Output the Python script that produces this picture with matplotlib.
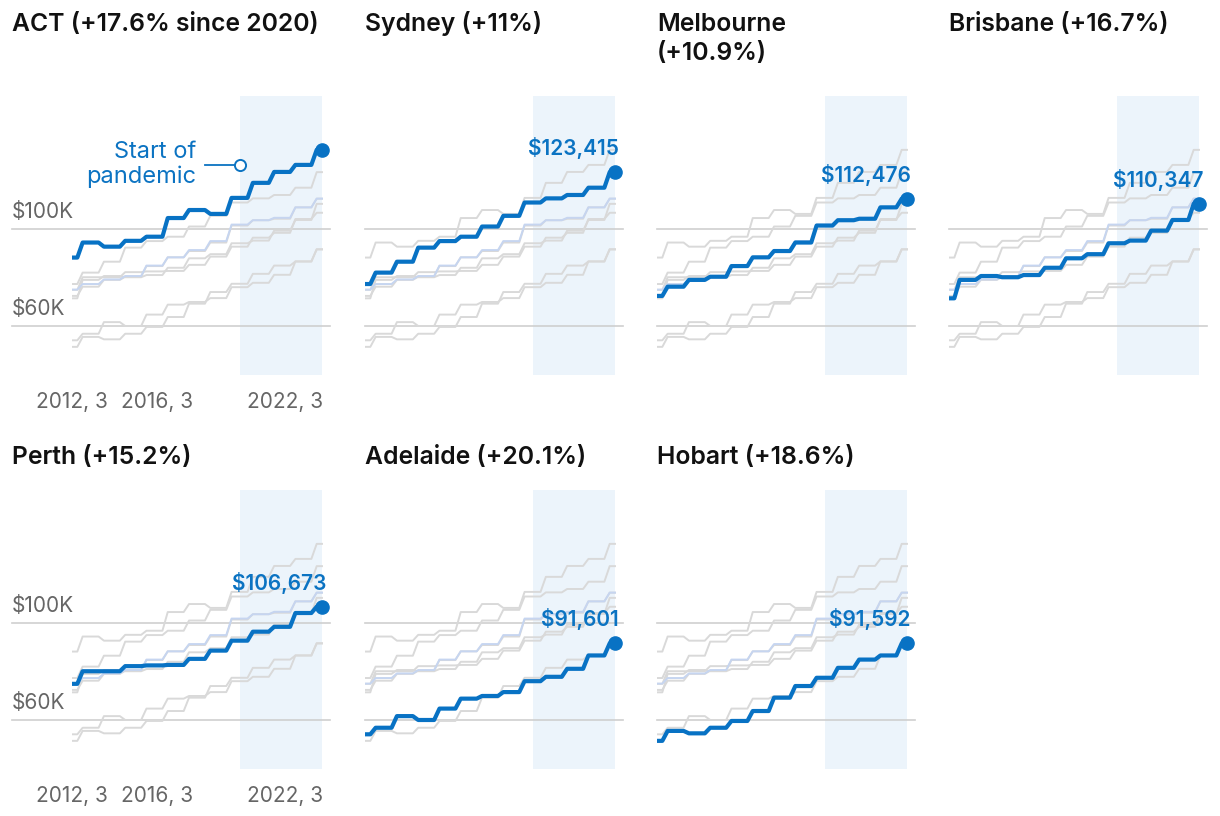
import numpy as np
import matplotlib
matplotlib.use("Agg")
import matplotlib.pyplot as plt
import matplotlib.transforms as mtransforms

plt.rcParams['font.family'] = ['Inter', 'DejaVu Sans']

# yearly figures in $ thousands, each held through its quarters (2012 Q3 .. 2024 Q2)
quarters = [f"{2012 + (q + 2) // 4}, {(q + 2) % 4 + 1}" for q in range(48)]
hold = [2] + [4] * 11 + [2]

act       = [88.2, 94.4, 92.7, 95.1, 96.8, 104.5, 107.8, 106.2, 112.8, 119.0, 123.5, 126.4, 132.6]
sydney    = [77.3, 82.0, 86.5, 92.3, 95.0, 96.8, 101.0, 105.4, 110.9, 112.6, 114.0, 117.0, 123.415]
melbourne = [72.4, 76.2, 79.0, 80.3, 84.7, 88.3, 90.9, 94.4, 101.4, 103.6, 104.2, 108.9, 112.476]
brisbane  = [71.4, 79.0, 80.6, 80.1, 81.0, 84.0, 87.9, 89.6, 94.1, 95.2, 99.3, 103.7, 110.347]
perth     = [74.9, 80.1, 80.1, 82.2, 82.5, 82.7, 85.2, 88.6, 92.7, 96.4, 98.4, 104.1, 106.673]
adelaide  = [54.1, 56.8, 61.6, 60.0, 64.7, 68.8, 69.9, 71.5, 76.0, 77.8, 81.1, 86.6, 91.601]
hobart    = [51.4, 55.5, 54.5, 56.8, 59.6, 63.7, 69.2, 74.0, 77.4, 81.5, 84.9, 86.6, 91.592]
australia = [75.0, 77.3, 79.2, 80.6, 84.9, 88.3, 91.3, 95.0, 101.8, 103.6, 104.6, 108.9, 112.5]

cities = ["ACT", "Sydney", "Melbourne", "Brisbane", "Perth", "Adelaide", "Hobart"]
values = [act, sydney, melbourne, brisbane, perth, adelaide, hobart]
titles = ["ACT (+17.6% since 2020)", "Sydney (+11%)", "Melbourne\n(+10.9%)",
          "Brisbane (+16.7%)", "Perth (+15.2%)", "Adelaide (+20.1%)", "Hobart (+18.6%)"]
end_labels = [None, "$123,415", "$112,476", "$110,347", "$106,673", "$91,601", "$91,592"]

tick_labels = ["2012, 3", "2016, 3", "2022, 3"]
grid_vals = [60, 100]
grid_labels = ["$60K", "$100K"]
pandemic_q = 31.5

BLUE = "#0872c4"
TEXT_BLUE = "#0b73c2"
GREY_LINE = "#d9d9d9"
FAINT_BLUE = "#c6d5f0"
SHADE = "#ecf4fb"
GRID = "#cfcfcf"
LABEL = "#666666"

W, H = 1220, 816
fig = plt.figure(figsize=(W / 100, H / 100), dpi=100)

x = np.arange(len(quarters))
series = [np.repeat(v, hold) for v in values]
aus = np.repeat(australia, hold)

col_left = [72, 365, 657, 949]
row_top = [96, 490]
title_base = [31, 464]
ax_w, ax_h = 258, 279
ext = -60 / ax_w

for i, city in enumerate(cities):
    r, c = divmod(i, 4)
    ax = fig.add_axes([col_left[c] / W, 1 - (row_top[r] + ax_h) / H, ax_w / W, ax_h / H])
    ax.set_xlim(0, 47 * ax_w / 250)
    ax.set_ylim(39.8, 154.8)
    ax.axis("off")

    ax.axvspan(pandemic_q, len(x) - 1, color=SHADE, lw=0, zorder=0)

    blend = mtransforms.blended_transform_factory(ax.transAxes, ax.transData)
    for gv, gl in zip(grid_vals, grid_labels):
        x0 = ext if c == 0 else 0
        ax.plot([x0, 1], [gv, gv], transform=blend, color=GRID, lw=1.2,
                clip_on=False, zorder=1)
        if c == 0:
            ax.annotate(gl, (ext, gv), xycoords=blend, xytext=(0, 7),
                        textcoords="offset pixels", ha="left", va="bottom",
                        fontsize=15, color=LABEL)

    for j, s in enumerate(series):
        if j != i:
            ax.plot(x, s, color=GREY_LINE, lw=1.4, zorder=2)
    ax.plot(x, aus, color=FAINT_BLUE, lw=1.4, zorder=2)
    ax.plot(x, series[i], color=BLUE, lw=3.0, zorder=4, solid_joinstyle="round")
    ax.plot(x[-1], series[i][-1], "o", color=BLUE, ms=9.5, zorder=5)

    if end_labels[i]:
        ax.annotate(end_labels[i], (x[-1], series[i][-1]), xytext=(4, 17),
                    textcoords="offset pixels", ha="right", va="baseline",
                    fontsize=15, fontweight="semibold", color=TEXT_BLUE, zorder=6)

    if c == 0:
        tblend = mtransforms.blended_transform_factory(ax.transData, ax.transAxes)
        for tl in tick_labels:
            ax.annotate(tl, (quarters.index(tl), 0), xytext=(0, -27), xycoords=tblend,
                        textcoords="offset pixels", ha="center", va="center",
                        fontsize=15, color=LABEL)

    if i == 0:
        yp = 126.4
        ax.plot([25.0, pandemic_q], [yp, yp], color=TEXT_BLUE, lw=1.3, zorder=5)
        ax.plot(pandemic_q, yp, "o", ms=8, mfc="white", mec=TEXT_BLUE, mew=1.4, zorder=6)
        ax.text(23.4, yp, "Start of\npandemic", ha="right", va="center",
                multialignment="right", fontsize=17, color=TEXT_BLUE,
                linespacing=1.15, zorder=6)

    tx = 12 if c == 0 else col_left[c]
    for k, line in enumerate(titles[i].split("\n")):
        ty = title_base[r] + 29 * k
        fig.text(tx / W, 1 - ty / H, line, ha="left", va="baseline",
                 fontsize=17.8, fontweight="semibold", color="#111111")

fig.savefig("out.png", dpi=100)
